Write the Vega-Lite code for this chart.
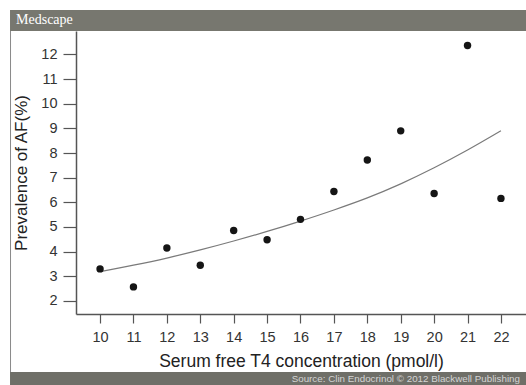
{
  "$schema": "https://vega.github.io/schema/vega-lite/v6.json",
  "padding": {"left": 10, "top": 9, "right": 0, "bottom": 0},
  "background": "white",
  "config": {"view": {"stroke": null}, "font": "Liberation Sans"},
  "width": 450,
  "height": 283,
  "layer": [
    {
      "data": {"values": [{}]},
      "mark": {"type": "rect", "color": "#77776f"},
      "encoding": {
        "x": {"datum": 7.305, "type": "quantitative"}, "x2": {"datum": 22.75},
        "y": {"datum": 13.802, "type": "quantitative"}, "y2": {"datum": 12.95}
      }
    },
    {
      "data": {"values": [{}]},
      "mark": {"type": "rect", "color": "#6f6f68"},
      "encoding": {
        "x": {"datum": 7.305, "type": "quantitative"}, "x2": {"datum": 22.75},
        "y": {"datum": -0.883, "type": "quantitative"}, "y2": {"datum": -1.451}
      }
    },
    {
      "data": {"values": [{}]},
      "mark": {"type": "rule", "color": "#8a8a8a", "strokeWidth": 1},
      "encoding": {
        "x": {"datum": 7.32, "type": "quantitative"},
        "y": {"datum": 12.95, "type": "quantitative"}, "y2": {"datum": -0.883}
      }
    },
    {
      "data": {"values": [{}]},
      "mark": {"type": "text", "align": "left", "baseline": "alphabetic", "font": "Liberation Serif", "fontSize": 14, "color": "white"},
      "encoding": {
        "x": {"datum": 7.485, "type": "quantitative"},
        "y": {"datum": 13.234, "type": "quantitative"},
        "text": {"value": "Medscape"}
      }
    },
    {
      "data": {"values": [{}]},
      "mark": {"type": "text", "align": "right", "baseline": "alphabetic", "font": "Liberation Sans", "fontSize": 9.8, "color": "#d4d4d4"},
      "encoding": {
        "x": {"datum": 22.57, "type": "quantitative"},
        "y": {"datum": -1.289, "type": "quantitative"},
        "text": {"value": "Source: Clin Endocrinol © 2012 Blackwell Publishing"}
      }
    },
    {
      "data": {"values": [
        {"t4": 10, "fit": 3.19}, {"t4": 11, "fit": 3.45}, {"t4": 12, "fit": 3.74},
        {"t4": 13, "fit": 4.07}, {"t4": 14, "fit": 4.43}, {"t4": 15, "fit": 4.82},
        {"t4": 16, "fit": 5.24}, {"t4": 17, "fit": 5.69}, {"t4": 18, "fit": 6.18},
        {"t4": 19, "fit": 6.75}, {"t4": 20, "fit": 7.4}, {"t4": 21, "fit": 8.12},
        {"t4": 22, "fit": 8.9}
      ]},
      "mark": {"type": "line", "color": "#7a7a7a", "strokeWidth": 1.2, "interpolate": "monotone"},
      "encoding": {
        "x": {"field": "t4", "type": "quantitative",
              "scale": {"domain": [9.28, 22.75], "nice": false, "zero": false},
              "axis": {"values": [10,11,12,13,14,15,16,17,18,19,20,21,22], "tickCount": 13, "labelOverlap": false, "labelBound": false,
                       "title": "Serum free T4 concentration (pmol/l)",
                       "grid": false, "tickSize": 9, "tickColor": "#555", "tickWidth": 1.2, "domainColor": "#555", "domainWidth": 1.5,
                       "labelFontSize": 14.5, "labelColor": "#333", "labelPadding": 7, "titleFontSize": 17.5, "titleFontWeight": "normal",
                       "titleColor": "#222", "titlePadding": 9}},
        "y": {"field": "fit", "type": "quantitative",
              "scale": {"domain": [1.47, 12.95], "nice": false, "zero": false},
              "axis": {"values": [2,3,4,5,6,7,8,9,10,11,12], "tickCount": 11, "labelOverlap": false, "labelBound": false,
                       "title": "Prevalence of AF(%)",
                       "grid": false, "tickSize": 13, "tickColor": "#555", "tickWidth": 1.2, "domainColor": "#555", "domainWidth": 1.5,
                       "labelFontSize": 14.5, "labelColor": "#333", "labelPadding": 6, "titleFontSize": 17, "titleFontWeight": "normal",
                       "titleColor": "#222", "titlePadding": 10}}
      }
    },
    {
      "data": {"values": [
        {"t4": 10, "af": 3.3}, {"t4": 11, "af": 2.57}, {"t4": 12, "af": 4.15},
        {"t4": 13, "af": 3.45}, {"t4": 14, "af": 4.86}, {"t4": 15, "af": 4.48},
        {"t4": 16, "af": 5.31}, {"t4": 17, "af": 6.44}, {"t4": 18, "af": 7.72},
        {"t4": 19, "af": 8.9}, {"t4": 20, "af": 6.36}, {"t4": 21, "af": 12.36},
        {"t4": 22, "af": 6.16}
      ]},
      "mark": {"type": "circle", "size": 55, "color": "#151515", "opacity": 1},
      "encoding": {
        "x": {"field": "t4", "type": "quantitative"},
        "y": {"field": "af", "type": "quantitative"}
      }
    }
  ]
}
